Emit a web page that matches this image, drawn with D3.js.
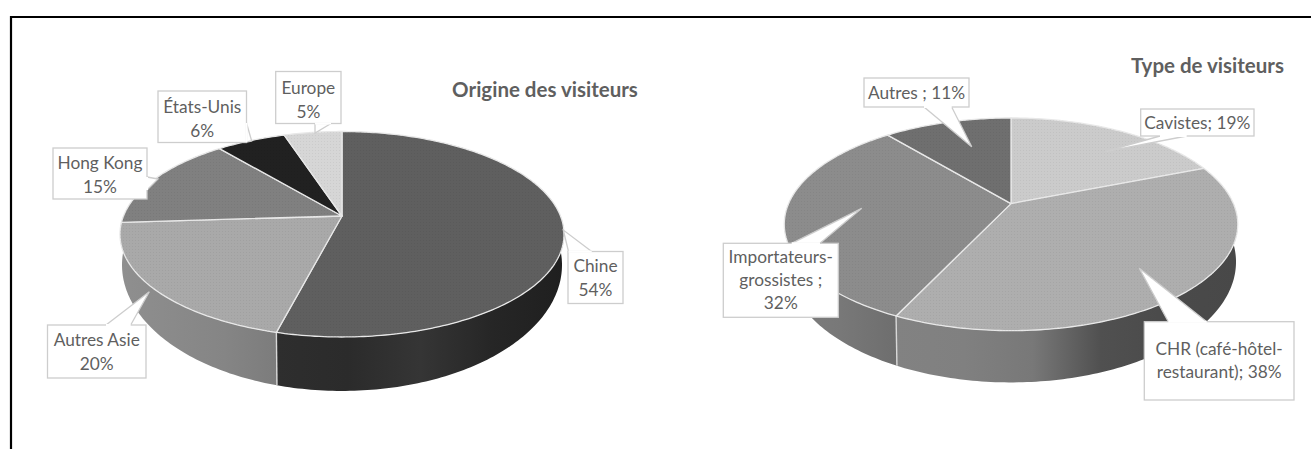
<!DOCTYPE html>
<html lang="fr">
<head>
<meta charset="utf-8">
<title>Origine et type de visiteurs</title>
<script src="https://cdn.jsdelivr.net/npm/d3@7"></script>
<style>
  html, body { margin: 0; padding: 0; background: #fff; }
  svg { display: block; }
  text { font-family: Lato, "Open Sans", sans-serif; fill: #5f5f5f; text-anchor: middle; dominant-baseline: central; }
</style>
</head>
<body>
<svg id="chart" width="1311" height="449"></svg>
<script>
// Survey data
const originCategories = ["Chine", "Autres Asie", "Hong Kong", "États-Unis", "Europe"];
const originValues = [54, 20, 15, 6, 5];
const originLabels = [["Chine", "54%"], ["Autres Asie", "20%"], ["Hong Kong", "15%"], ["États-Unis", "6%"], ["Europe", "5%"]];

const typeCategories = ["Cavistes", "CHR", "Importateurs-grossistes", "Autres"];
const typeValues = [19, 38, 32, 11];
const typeLabels = [["Cavistes; 19%"], ["CHR (café-hôtel-", "restaurant); 38%"], ["Importateurs-", "grossistes ;", "32%"], ["Autres ; 11%"]];

// Slice tones: top face, then the horizontal shading of the side wall
const originTops = ["#5f5f5f", "#a9a9a9", "#808080", "#212121", "#d6d6d6"];
const originSides = [["#2e2e2e", "#2b2b2b", "#353535", "#262626", "#1f1f1f"], ["#8f8f8f", "#8a8a8a", "#858585", "#7c7c7c"], ["#707070", "#707070"], ["#111", "#111"], ["#bbb", "#bbb"]];
const typeTops = ["#cbcbcb", "#aeaeae", "#8c8c8c", "#6f6f6f"];
const typeSides = [["#aaa", "#aaa"], ["#828282", "#808080", "#787878", "#505050", "#4a4a4a", "#484848"], ["#7e7e7e", "#787878", "#6e6e6e"], ["#555", "#555"]];

// Geometry of each tilted disc: a circle seen in perspective (k), and the wider,
// deeper curve that bounds the near half of its side wall.
const originGeom = { cx: 342, k: 0.1776, top: { a: 218.5, b: 99.5, y: 216 }, base: { a: 216.5, b: 122, y: 242.6 } };
const typeGeom = { cx: 1011, k: 0.1947, top: { a: 222.4, b: 102.3, y: 203.6 }, base: { a: 220.7, b: 115.9, y: 238.5 } };

// Callout boxes: rectangle, line centres, and pointer polyline (foot, tip, foot)
const originCallouts = [
  { x: 568, y: 251.5, w: 55, h: 52, lines: [265.5, 289], ptr: [[591.7, 251.5], [563.3, 230], [568.5, 251.5]] },
  { x: 47.5, y: 325, w: 98.5, h: 53, lines: [339.5, 363.5], ptr: [[106, 325], [149.3, 291.7], [130.7, 325]] },
  { x: 53, y: 148, w: 94, h: 51, lines: [162, 186], ptr: [[147, 177], [158, 179], [147, 190]] },
  { x: 158, y: 91, w: 88.5, h: 51.5, lines: [106, 130], ptr: [[246.5, 123], [251.7, 141], [246.5, 142]] },
  { x: 275.7, y: 71.5, w: 65.3, h: 52, lines: [87, 111], ptr: [[331, 123.5], [315, 133], [315, 123.5]] }
];
const typeCallouts = [
  { x: 1140.7, y: 109, w: 113.3, h: 27, lines: [122], ptr: [[1160, 136], [1105, 151.7], [1186.7, 136]] },
  { x: 1144.3, y: 321.7, w: 149.7, h: 78.3, lines: [348, 371.5], ptr: [[1168.3, 321.7], [1139.3, 268.3], [1206.7, 321.7]] },
  { x: 723.3, y: 243.3, w: 115, h: 74, lines: [256.6, 279.6, 302], ptr: [[791.7, 243.3], [861.7, 208.3], [820, 243.3]] },
  { x: 864, y: 78, w: 105, h: 29, lines: [92.7], ptr: [[924, 107], [971.7, 146.7], [951.7, 107]] }
];

const svg = d3.select("#chart");
const defs = svg.append("defs");

// Fine stipple laid over the top faces
defs.append("pattern").attr("id", "stipple").attr("width", 3).attr("height", 3).attr("patternUnits", "userSpaceOnUse")
  .append("rect").attr("width", 1).attr("height", 1).attr("fill", "#000").attr("opacity", 0.05);

// Page frame: top and left rules only
svg.append("path").attr("d", "M11,449V17H1311").attr("fill", "none").attr("stroke", "#000").attr("stroke-width", 2.2);

const pieLayout = d3.pie().sort(null).startAngle(0).endAngle(2 * Math.PI);
const outline = d3.line();

function drawDisc(id, values, tops, sides, geom) {
  const { cx, k } = geom;
  // Angle is measured clockwise from twelve o'clock.
  const project = (level, angle) => {
    const u = Math.sin(angle), v = -Math.cos(angle), w = 1 - k * v;
    return [cx + level.a * u / w, level.y + level.b * v / w];
  };
  const arcPoints = (level, from, to) => {
    const n = Math.max(4, Math.ceil((to - from) * 60));
    return d3.range(n + 1).map(i => project(level, from + (to - from) * i / n));
  };
  const slices = pieLayout(values);
  const g = svg.append("g");

  // Side walls: only the near half of the rim has one
  slices.forEach((s, i) => {
    const from = Math.max(s.startAngle, Math.PI / 2);
    const to = Math.min(s.endAngle, 3 * Math.PI / 2);
    if (to <= from) return;
    const upper = arcPoints(geom.top, from, to);
    const lower = arcPoints(geom.base, from, to);
    const xs = d3.extent(upper.concat(lower), p => p[0]);
    const grad = defs.append("linearGradient").attr("id", `${id}-side-${i}`)
      .attr("gradientUnits", "userSpaceOnUse").attr("x1", xs[0]).attr("x2", xs[1]).attr("y1", 0).attr("y2", 0);
    sides[i].forEach((c, j) => grad.append("stop").attr("offset", j / (sides[i].length - 1)).attr("stop-color", c));
    g.append("path").attr("d", outline(upper.concat(lower.reverse())) + "Z").attr("fill", `url(#${id}-side-${i})`);
  });

  // Seams between side walls
  slices.forEach(s => {
    if (Math.cos(s.startAngle) < 0) {
      g.append("path").attr("d", outline([project(geom.top, s.startAngle), project(geom.base, s.startAngle)]))
        .attr("stroke", "#d8d8d8").attr("stroke-width", 1.4).attr("fill", "none");
    }
  });

  // Top faces
  slices.forEach((s, i) => {
    const face = outline([[cx, geom.top.y]].concat(arcPoints(geom.top, s.startAngle, s.endAngle))) + "Z";
    g.append("path").attr("d", face).attr("fill", tops[i]).attr("stroke", "#e8e8e8").attr("stroke-width", 1.3).attr("stroke-linejoin", "round");
    g.append("path").attr("d", face).attr("fill", "url(#stipple)");
  });
}

function drawCallouts(callouts, labels) {
  const g = svg.append("g");
  callouts.forEach((c, i) => {
    g.append("path").attr("d", outline(c.ptr)).attr("fill", "#fff").attr("stroke", "#cdcdcd").attr("stroke-width", 1.3);
    g.append("rect").attr("x", c.x).attr("y", c.y).attr("width", c.w).attr("height", c.h)
      .attr("fill", "#fff").attr("stroke", "#cdcdcd").attr("stroke-width", 1.3);
    g.append("path").attr("d", outline([c.ptr[0], c.ptr[2]])).attr("stroke", "#fff").attr("stroke-width", 2);
    labels[i].forEach((line, j) => {
      g.append("text").attr("x", c.x + c.w / 2).attr("y", c.lines[j]).attr("font-size", 17.3).text(line);
    });
  });
}

drawDisc("origin", originValues, originTops, originSides, originGeom);
drawDisc("type", typeValues, typeTops, typeSides, typeGeom);
drawCallouts(originCallouts, originLabels);
drawCallouts(typeCallouts, typeLabels);

// Chart titles
svg.append("text").attr("x", 545).attr("y", 89).attr("font-size", 20.5).attr("font-weight", 700).text("Origine des visiteurs");
svg.append("text").attr("x", 1207.5).attr("y", 64.5).attr("font-size", 20.5).attr("font-weight", 700).text("Type de visiteurs");
</script>
</body>
</html>
